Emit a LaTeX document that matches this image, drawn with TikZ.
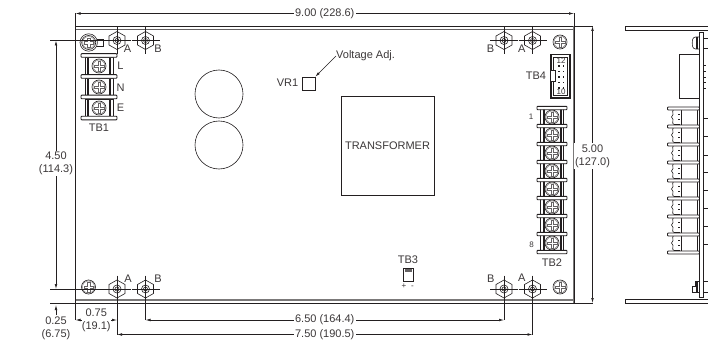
\documentclass[tikz,border=0pt]{standalone}
\usepackage{fontspec}
\setmainfont{Liberation Sans}
\usetikzlibrary{arrows.meta}
\definecolor{inkline}{RGB}{35,31,32}
\definecolor{inktext}{RGB}{60,56,57}
\tikzset{
    dimline/.style={draw=inkline,line width=0.6pt},
    dimlabel/.style={fill=white,inner sep=1.5pt,text=inktext,font=\fontsize{11}{13}\selectfont,align=center},
    plainlabel/.style={inner sep=0pt,text=inktext,font=\fontsize{11}{13}\selectfont,align=center},
    tinylabel/.style={inner sep=0pt,text=inktext,font=\fontsize{8}{9}\selectfont},
    part/.style={draw=inkline,line width=0.6pt},
    thinpart/.style={draw=inkline!70,line width=0.3pt},
    barplate/.style={draw=inkline,fill=white,line width=0.9pt,rounded corners=0.8pt},
    pics/standoff/.style={code={
        \draw[part,fill=white] (0,-9) -- (8,-4.5) -- (8,4.5) -- (0,9) -- (-8,4.5) -- (-8,-4.5) -- cycle;
        \draw[part] (0,0) circle (4pt);
        \draw[part] (0,0) circle (2pt);
        \draw[part] (-14,0) -- (14,0);
        \draw[part] (0,-13.5) -- (0,13.5);
    }},
    pics/screwhead/.style={code={
        \draw[part,fill=white] (0,0) circle (7pt);
        \draw[thinpart] (0,0) circle (6pt);
        \draw[thinpart] (-1.3,-4.8) -- (1.3,-4.8) -- (1.3,-1.3) -- (4.8,-1.3) -- (4.8,1.3) -- (1.3,1.3) -- (1.3,4.8) -- (-1.3,4.8) -- (-1.3,1.3) -- (-4.8,1.3) -- (-4.8,-1.3) -- (-1.3,-1.3) -- cycle;
    }},
    pics/cellfront/.style={code={
        \draw[part,fill=white] (-#1,-9) rectangle (#1,9);
        \draw[inkline,line width=2pt] (-#1+3,-9) -- (-#1+3,9);
        \draw[inkline,line width=2pt] (#1-3,-9) -- (#1-3,9);
        \pic at (0,0) {screwhead};
    }},
    pics/cellside/.style={code={
        \draw[part] (681.7,-9) -- (681.7,9);
        \draw[part] (697,-9) -- (697,9);
        \draw[part] (678,-7.5) -- (678,7.5);
        \draw[part,fill=white] (680,-7.5) -- (674,-7.5) .. controls (671,-6) and (674,-4) .. (673,-2.5) .. controls (671,-1) and (671,1) .. (673,2.5) .. controls (674,4) and (671,6) .. (674,7.5) -- (680,7.5);
        \draw[part] (678,-2.5) -- (680,-2.5);
        \draw[part] (678,2.5) -- (680,2.5);
    }},
}

\begin{document}
\begin{tikzpicture}[x=1pt,y=-1pt,>={Latex[length=5pt,width=2.6pt]}]
    \useasboundingbox (0,0) rectangle (708,342);
    \fill[white] (0,0) rectangle (708,342);

    % board
    \coordinate (tl) at (75.5,26);
    \coordinate (tr) at (574,26);
    \coordinate (bl) at (75.5,303);
    \coordinate (br) at (574,303);
    \draw[part,line width=0.8pt] (tl) rectangle (br);
    \draw[draw=inkline!70,line width=1pt] (75.5,30) -- (574,30);
    \draw[draw=inkline!60,line width=1.2pt] (75.5,300) -- (574,300);
    \draw[draw=inkline!60,line width=1pt] (573,26) -- (573,303);

    % standoffs
    \coordinate (a1) at (117,40.5);
    \coordinate (b1) at (145.5,40.5);
    \coordinate (b2) at (504,40.5);
    \coordinate (a2) at (532.5,40.5);
    \coordinate (a3) at (117,289);
    \coordinate (b3) at (145.5,289);
    \coordinate (b4) at (504,289);
    \coordinate (a4) at (532.5,289);
    \pic at (a1) {standoff};
    \pic at (b1) {standoff};
    \pic at (b2) {standoff};
    \pic at (a2) {standoff};
    \pic at (a3) {standoff};
    \pic at (b3) {standoff};
    \pic at (b4) {standoff};
    \pic at (a4) {standoff};
    \node[plainlabel] (la1) at (127.5,48.5) {A};
    \node[plainlabel] (lb1) at (158,49) {B};
    \node[plainlabel] (lb2) at (490.5,49) {B};
    \node[plainlabel] (la2) at (521.7,48.5) {A};
    \node[plainlabel] (la3) at (128,279) {A};
    \node[plainlabel] (lb3) at (158,279) {B};
    \node[plainlabel] (lb4) at (490.7,279) {B};
    \node[plainlabel] (la4) at (521.7,277.5) {A};

    % screws
    \draw[part,fill=white] (92,39.5) -- (103,39.5) -- (103,46) -- (92,46) -- cycle;
    \draw[part,fill=white] (88.7,42.5) circle (8.7pt);
    \pic at (88.7,42.5) {screwhead};
    \pic at (560,42) {screwhead};
    \pic at (88.5,287) {screwhead};
    \pic at (560,287) {screwhead};

    % TB1
    \foreach \yy in {66,87,108} {
        \pic at (99,\yy) {cellfront=14};
    }
    \foreach \yy in {55.5,76.5,97,118} {
        \draw[barplate] (81,\yy-1.8) rectangle (117,\yy+1.8);
    }
    \node[plainlabel] (lbl) at (120.5,66) {L};
    \node[plainlabel] (lbn) at (120.5,87.5) {N};
    \node[plainlabel] (lbe) at (120.5,108) {E};
    \node[plainlabel] (tbone) at (99,128) {TB1};

    % electrolytics
    \draw[part] (219,94) circle (24pt);
    \draw[part] (219,145) circle (24pt);

    % VR1
    \node[plainlabel] (vrone) at (287.5,83) {VR1};
    \node[part,draw,minimum size=13pt,inner sep=0pt] (vrbox) at (308.5,83.5) {};
    \node[plainlabel,anchor=west] (vadj) at (336,56) {Voltage Adj.};
    \draw[dimline,->] (vadj.west) -- (vrbox.north east);

    % transformer
    \node[part,draw,minimum width=93pt,minimum height=99pt,inner sep=0pt,plainlabel] (transf) at (387.5,145.5) {TRANSFORMER};

    % TB4
    \draw[part,line width=1.4pt] (551,54.5) rectangle (570,98);
    \draw[part] (553.5,57) rectangle (567.5,95.5);
    \draw[part,fill=white] (550,70) rectangle (555,81);
    \foreach \yy in {66,71.5,77,82.5,88} {
        \fill[inkline] (558,\yy-0.8) rectangle (559.6,\yy+0.8);
        \fill[inkline] (562.5,\yy-0.8) rectangle (564.1,\yy+0.8);
    }
    \node[tinylabel] (pintop) at (561,61) {12};
    \node[tinylabel] (pinbot) at (561,92) {10};
    \node[plainlabel] (tbfour) at (536,76) {TB4};

    % TB2
    \foreach \yy in {117,135,153,171,189,207,225,243} {
        \pic at (552,\yy) {cellfront=11.5};
    }
    \foreach \yy in {108,126,144,162,180,198,216,234,252} {
        \draw[barplate] (537,\yy-1.7) rectangle (567,\yy+1.7);
    }
    \node[tinylabel] (pinone) at (531,117) {1};
    \node[tinylabel] (pineight) at (531.5,245) {8};
    \node[plainlabel] (tbtwo) at (552,263) {TB2};

    % TB3
    \node[plainlabel] (tbthree) at (408,260) {TB3};
    \node[part,draw,minimum width=10pt,minimum height=13pt,inner sep=0pt] (tbbox) at (408,274.5) {};
    \fill[inkline!70] (404.5,269) rectangle (411.5,271.5);
    \node[tinylabel] (plusminus) at (407.7,286) {+\hspace{5pt}-};

    % side view
    \draw[part,line width=0.8pt] (708,26) -- (625,26) -- (625,30) -- (708,30);
    \draw[part,line width=0.8pt] (708,299.5) -- (625,299.5) -- (625,303) -- (708,303);
    \draw[part,line width=0.9pt,fill=white] (699.5,32) rectangle (703,297);
    \draw[part] (699.5,54) -- (679,54) -- (679,98) -- (699.5,98);
    \foreach \yy in {65,71,77,82,88} {
        \draw[part] (703,\yy) -- (706,\yy);
    }
    \foreach \yy in {118,136.5,155,172.5,190.5,208.5,226.5,244.5} {
        \draw[part] (703,\yy) -- (708,\yy);
    }
    \foreach \yy in {117,135,153,171,189,207,225,243} {
        \pic at (0,\yy) {cellside};
    }
    \foreach \yy in {108.5,126.5,144.5,162.5,180.5,198.5,216.5,234.5,252.5} {
        \draw[barplate] (667.5,\yy-1.5) rectangle (699.5,\yy+1.5);
    }
    \draw[part,rounded corners=2.5pt] (699,37) -- (693,37) -- (692,43) -- (693,49) -- (699,49);
    \draw[inkline,line width=1.8pt] (697,37) -- (697,49);
    \draw[part] (703,38) -- (708,38);
    \draw[part] (703,48) -- (708,48);
    \draw[part] (699,281) -- (695,281) -- (695,286) -- (692,286) -- (692,292) -- (699,292);
    \draw[inkline,line width=1.8pt] (697,281) -- (697,292);
    \draw[part] (703,281) -- (708,281);
    \draw[part] (703,292) -- (708,292);

    % dim 9.00
    \coordinate (dtl) at (75.5,13.5);
    \coordinate (dtr) at (574,13.5);
    \draw[dimline] (tl) -- (dtl);
    \draw[dimline] (tr) -- (dtr);
    \draw[dimline,<->] (dtl) -- node[dimlabel] (wide) {9.00 (228.6)} (dtr);

    % dim 5.00
    \coordinate (drt) at (592.5,26);
    \coordinate (drb) at (592.5,303);
    \draw[dimline] (tr) -- (drt);
    \draw[dimline] (br) -- (drb);
    \draw[dimline,<->] (drt) -- node[dimlabel,pos=0.47] (high) {5.00\\(127.0)} (drb);

    % dim 4.50
    \coordinate (dlt) at (56,40.5);
    \coordinate (dlb) at (56,289);
    \coordinate (dltext) at (50,40.5);
    \coordinate (dlbext) at (50,289);
    \draw[dimline] (dltext) -- (a1);
    \draw[dimline] (dlbext) -- (a3);
    \draw[dimline,<->] (dlt) -- node[dimlabel,pos=0.495] (holes) {4.50\\(114.3)} (dlb);

    % dim 0.25
    \coordinate (dlow) at (50,303);
    \coordinate (dlowtail) at (56,315);
    \coordinate (dlowtip) at (56,305);
    \draw[dimline] (dlow) -- (bl);
    \draw[dimline,->] (dlowtail) -- (dlowtip);
    \node[plainlabel] (edge) at (56,328) {0.25\\(6.75)};

    % dim 0.75
    \coordinate (done) at (75.5,320);
    \coordinate (dtwo) at (117,320);
    \draw[dimline] (bl) -- (done);
    \draw[dimline,<->] (done) -- node[dimlabel,inner xsep=0pt,inner ysep=0pt] (inset) {0.75\\(19.1)} (dtwo);

    % dim 6.50, 7.50
    \coordinate (dthree) at (145.5,320);
    \coordinate (dfour) at (504,320);
    \coordinate (dfive) at (117,334.5);
    \coordinate (dsix) at (532.5,334.5);
    \draw[dimline] (a3) -- (dfive);
    \draw[dimline] (b3) -- (dthree);
    \draw[dimline] (b4) -- (dfour);
    \draw[dimline] (a4) -- (dsix);
    \draw[dimline,<->] (dthree) -- node[dimlabel] (pitchb) {6.50 (164.4)} (dfour);
    \draw[dimline,<->] (dfive) -- node[dimlabel] (pitcha) {7.50 (190.5)} (dsix);
\end{tikzpicture}
\end{document}
